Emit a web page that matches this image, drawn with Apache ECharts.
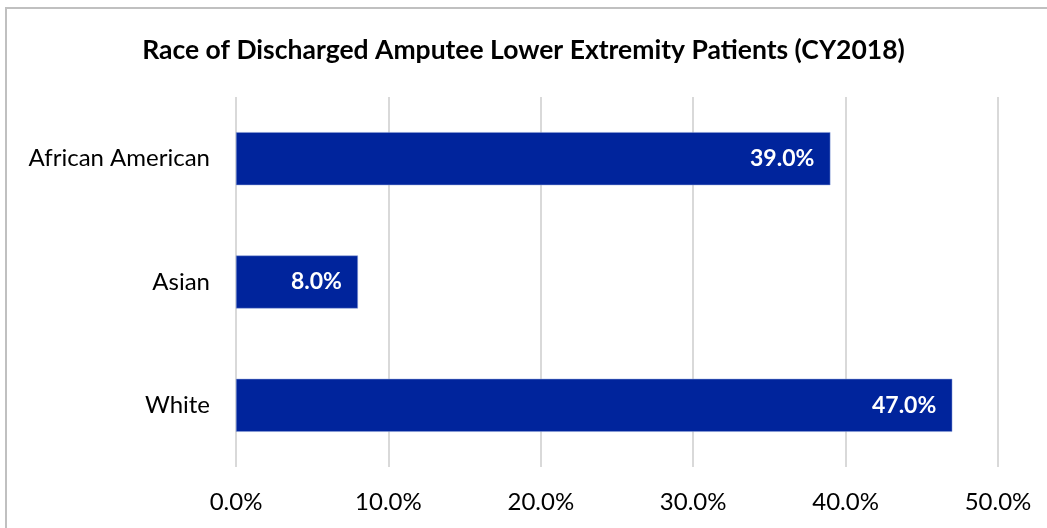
<!DOCTYPE html>
<html>
<head>
<meta charset="utf-8">
<script src="https://cdn.jsdelivr.net/npm/echarts@6/dist/echarts.min.js"></script>
<style>
html,body{margin:0;padding:0;background:#fff;}
#chart{width:1047px;height:528px;}
</style>
</head>
<body>
<div id="chart"></div>
<script>
const titleText = 'Race of Discharged Amputee Lower Extremity Patients (CY2018)';
const categories = ['African American', 'Asian', 'White'];
const values = [39.0, 8.0, 47.0];
const xTicks = [0, 10, 20, 30, 40, 50];

const FONT = 'Lato';
const chart = echarts.init(document.getElementById('chart'), null, {renderer: 'canvas'});
chart.setOption({
  animation: false,
  backgroundColor: '#fff',
  title: {
    text: titleText,
    left: 'center',
    top: 32,
    textStyle: {fontFamily: FONT, fontWeight: 'bold', fontSize: 26.5, color: '#000'}
  },
  graphic: [{
    type: 'rect',
    shape: {x: 6, y: 8, width: 1060, height: 540},
    style: {fill: 'none', stroke: '#c0c0c0', lineWidth: 2},
    silent: true
  }],
  grid: {left: 236, right: 49, top: 97, bottom: 61, containLabel: false},
  xAxis: {
    type: 'value',
    min: xTicks[0],
    max: xTicks[xTicks.length - 1],
    interval: 10,
    axisLine: {show: false},
    axisTick: {show: false},
    splitLine: {lineStyle: {color: '#d9d9d9', width: 2}},
    axisLabel: {
      formatter: v => v.toFixed(1) + '%',
      fontFamily: FONT, fontSize: 24, color: '#000', margin: 23
    }
  },
  yAxis: {
    type: 'category',
    data: categories,
    inverse: true,
    axisLine: {show: false},
    axisTick: {show: false},
    axisLabel: {fontFamily: FONT, fontSize: 24, color: '#000', margin: 26}
  },
  series: [{
    type: 'bar',
    data: values,
    barWidth: 53,
    itemStyle: {color: '#00249C', borderColor: '#8da0d8', borderWidth: 0.5},
    label: {
      show: true,
      position: 'insideRight',
      distance: 16,
      formatter: p => p.value.toFixed(1) + '%',
      fontFamily: FONT, fontWeight: 'bold', fontSize: 23, color: '#fff'
    }
  }]
});
</script>
</body>
</html>
